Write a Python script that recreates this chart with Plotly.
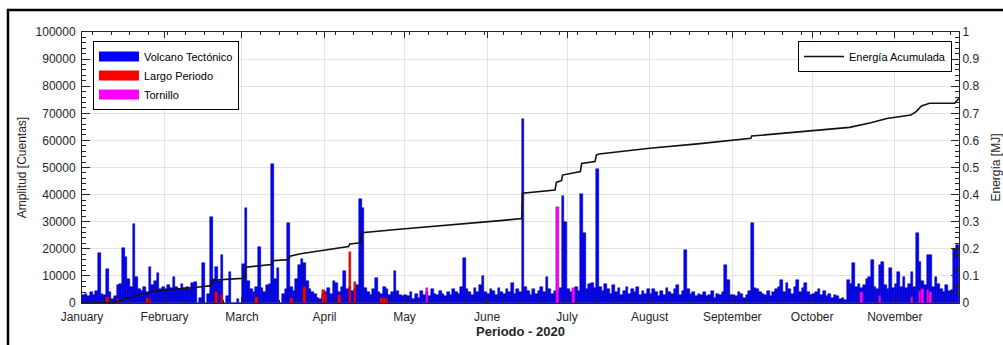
import numpy as np
import pandas as pd
import plotly.graph_objects as go

# ---------------- data ----------------
START = "2020-01-01"
END = "2020-11-25 02:00"

month_ticks = ["2020-01-01", "2020-02-01", "2020-03-01", "2020-04-01", "2020-05-01", "2020-06-01",
               "2020-07-01", "2020-08-01", "2020-09-01", "2020-10-01", "2020-11-01"]
month_labels = ["January", "February", "March", "April", "May", "June",
                "July", "August", "September", "October", "November"]

# daily maximum amplitude [counts] - Volcano Tectónico
vt_jan = [3000, 3500, 2500, 4000, 3000, 4500, 18500, 3500, 2800, 12400,
          4000, 1500, 2500, 6500, 7000, 20400, 17100, 9000, 6000, 29000,
          9500, 5000, 4500, 6000, 4000, 13400, 6500, 8000, 11200, 5000, 6000]
vt_feb = [5000, 6500, 5500, 9700, 6000, 5000, 7000, 5500, 6000, 5000,
          7300, 7900, 0, 2000, 14900, 0, 3500, 31800, 9000, 13400,
          8000, 17600, 0, 2500, 11400, 0, 0, 1500, 0]
vt_mar = [14300, 34900, 8000, 5000, 4000, 6000, 20500, 5500, 4000, 6500,
          7000, 51300, 9000, 12800, 0, 3500, 5000, 29400, 6000, 4500,
          9000, 14000, 16100, 14800, 8000, 5000, 4000, 3500, 2000, 1500, 3000]
vt_apr = [4000, 5500, 3500, 8000, 7500, 4000, 6000, 11900, 5000, 6000,
          4500, 5000, 6500, 38400, 35000, 5500, 4000, 3000, 5000, 9100,
          4000, 3500, 6000, 5000, 3000, 4000, 11900, 4500, 3000, 2500]
vt_may = [3000, 2500, 4000, 1500, 3500, 2000, 4500, 3000, 4000, 2500,
          5000, 3500, 3000, 4500, 3500, 2500, 4000, 3000, 5000, 4000,
          3500, 6000, 16500, 5000, 4000, 3000, 5500, 4000, 6500, 10100, 4000]
vt_jun = [3500, 5000, 4500, 3000, 5500, 4000, 3500, 5000, 4000, 7300,
          3500, 5000, 4000, 67800, 6000, 4500, 3000, 5000, 3500, 4500,
          6000, 4000, 9500, 5000, 3500, 4500, 4000, 5500, 39500, 30000]
vt_jul = [5000, 4000, 3500, 6000, 4500, 40200, 26000, 5000, 7000, 7500,
          5500, 49300, 6000, 4500, 7000, 5000, 3500, 6500, 4000, 5500,
          3000, 4500, 6000, 3500, 5000, 4000, 6000, 3000, 4500, 3500, 5000]
vt_aug = [3500, 5000, 4000, 2500, 4500, 3000, 5500, 4000, 3500, 5000,
          6500, 3000, 4500, 19600, 5000, 3500, 4000, 2500, 3500, 3000,
          4000, 2500, 3000, 4500, 2000, 3500, 3000, 4000, 14000, 8500, 3000]
vt_sep = [3000, 2500, 4000, 3500, 2000, 3000, 4500, 29400, 5500, 5000,
          4000, 3500, 3000, 4500, 2500, 4000, 5000, 6000, 8500, 4000,
          7400, 5000, 3500, 6000, 8500, 4000, 5500, 7400, 4000, 3000]
vt_oct = [3500, 4000, 5000, 3000, 4500, 2500, 3500, 2000, 3000, 2500,
          1500, 2000, 1000, 8500, 7000, 14600, 6000, 7000, 5500, 6500,
          9000, 9500, 15900, 6000, 5000, 14000, 15200, 6500, 5000, 12800, 5500]
vt_nov = [7000, 11500, 6000, 9700, 5500, 7000, 11500, 6000, 25900, 15200,
          8000, 6500, 17700, 17700, 6000, 9700, 7000, 5000, 4000, 6500,
          4500, 4800, 20000, 21400]

# Largo Periodo (day of year index from Jan 1 = 0, amplitude)
lp_day = [9, 13, 24, 25, 50, 52, 65, 78, 83, 90, 91, 96, 100, 102, 112, 113, 114]
lp_amp = [2200, 1500, 1800, 1200, 4000, 3000, 2200, 2000, 6000, 4800, 3300, 2800, 18900, 7900, 2000, 2000, 1500]

# Tornillo
tor_day = [129, 178, 184, 292, 299, 311, 314, 315, 317, 318]
tor_amp = [5500, 35500, 5400, 4000, 2500, 2200, 4500, 5000, 4800, 4000]

# Energía acumulada [MJ] (day offset from Jan 1, value)
en_day = [0, 12, 12.5, 15, 15.5, 19, 19.5, 21, 21.5, 25, 25.5, 33, 43, 48.5, 49, 60, 61, 61.5,
          71, 71.5, 77.5, 78, 82, 100, 100.5, 104.5, 105, 119, 134, 157, 165, 165.3, 177.5, 178,
          180, 180.3, 187, 187.5, 192.5, 193, 194, 213, 231, 243, 251, 251.3, 261, 277, 288,
          296, 302, 311, 313, 315, 318, 327.5, 329]
en_val = [0.0, 0.0, 0.005, 0.008, 0.017, 0.020, 0.026, 0.028, 0.033, 0.036, 0.042, 0.048, 0.058,
          0.064, 0.084, 0.091, 0.093, 0.132, 0.142, 0.156, 0.160, 0.173, 0.182, 0.208, 0.218,
          0.222, 0.259, 0.272, 0.284, 0.304, 0.312, 0.405, 0.417, 0.445, 0.452, 0.472, 0.485,
          0.515, 0.522, 0.546, 0.550, 0.571, 0.587, 0.601, 0.608, 0.616, 0.624, 0.638, 0.648,
          0.665, 0.681, 0.694, 0.706, 0.727, 0.737, 0.737, 0.755]

# ---------------- build ----------------
vt = vt_jan + vt_feb + vt_mar + vt_apr + vt_may + vt_jun + vt_jul + vt_aug + vt_sep + vt_oct + vt_nov
t0 = pd.Timestamp(START)
half = pd.Timedelta(hours=12)
vt_x = [t0 + pd.Timedelta(days=i) + half for i in range(len(vt))]
lp_x = [t0 + pd.Timedelta(days=d) + half for d in lp_day]
tor_x = [t0 + pd.Timedelta(days=d) + half for d in tor_day]
en_x = [t0 + pd.Timedelta(days=d) for d in en_day]

DAY_MS = 86400000
EDGE = "#000080"
FONT = "Liberation Sans, Arial, Helvetica, sans-serif"
AX = "#262626"

fig = go.Figure()
fig.add_trace(go.Bar(x=vt_x, y=vt, width=DAY_MS, marker=dict(color="#0000ff", line=dict(color=EDGE, width=0.5)),
                     name="Volcano Tectónico", legendgroup="vt", showlegend=False))
fig.add_trace(go.Bar(x=lp_x, y=lp_amp, width=DAY_MS, marker=dict(color="#ff0000", line=dict(color="#8b0000", width=0.4)),
                     name="Largo Periodo", legendgroup="lp", showlegend=False))
fig.add_trace(go.Bar(x=tor_x, y=tor_amp, width=DAY_MS, marker=dict(color="#ff00ff", line=dict(color="#800080", width=0.4)),
                     name="Tornillo", legendgroup="tor", showlegend=False))
# legend swatches (wide rectangles like the original legend)
for nm, col, grp in [("Volcano Tectónico", "#0000ff", "vt"), ("Largo Periodo", "#ff0000", "lp"), ("Tornillo", "#ff00ff", "tor")]:
    fig.add_trace(go.Scatter(x=[None], y=[None], mode="lines", line=dict(color=col, width=13),
                             name=nm, legendgroup=grp, legend="legend"))
fig.add_trace(go.Scatter(x=en_x, y=en_val, mode="lines", line=dict(color="#111111", width=1.6),
                         name="Energía Acumulada", yaxis="y2", legend="legend2"))

fig.update_layout(
    width=1003, height=345,
    margin=dict(l=82, r=44, t=32, b=42, autoexpand=False),
    paper_bgcolor="white", plot_bgcolor="white",
    barmode="overlay", bargap=0,
    font=dict(family=FONT, size=12, color=AX),
    showlegend=True,
    legend=dict(x=0.0125, y=0.967, xanchor="left", yanchor="top", bgcolor="white",
                bordercolor="black", borderwidth=1, font=dict(size=11, color="black"),
                itemwidth=40, tracegroupgap=0, traceorder="normal"),
    legend2=dict(x=0.992, y=0.967, xanchor="right", yanchor="top", bgcolor="white",
                 bordercolor="black", borderwidth=1, font=dict(size=11, color="black"),
                 itemwidth=40),
    xaxis=dict(type="date", range=[START, END], tickmode="array", tickvals=month_ticks, ticktext=month_labels,
               automargin=False,
               ticks="inside", ticklen=6, tickcolor=AX, showline=True, linecolor=AX, linewidth=1, mirror="ticks",
               showgrid=True, gridcolor="#e3e3e3", gridwidth=1, ticklabelstandoff=3,
               tickfont=dict(size=12, color=AX),
               minor=dict(ticks="inside", ticklen=3, dtick=7 * DAY_MS, tickcolor=AX, showgrid=False),
               title=dict(text="<b>Periodo - 2020</b>", font=dict(size=13, color=AX), standoff=3)),
    yaxis=dict(range=[0, 100000], dtick=10000, tickformat="d", ticks="inside", ticklen=8, tickcolor=AX,
               automargin=False,
               showline=True, linecolor=AX, linewidth=1, showgrid=True, gridcolor="#e3e3e3",
               zeroline=False, tickfont=dict(size=12, color=AX), ticklabelstandoff=3,
               minor=dict(ticks="inside", ticklen=4, dtick=2000, tickcolor=AX, showgrid=False),
               title=dict(text="Amplitud [Cuentas]", font=dict(size=12, color=AX), standoff=6)),
    yaxis2=dict(range=[0, 1], dtick=0.1, overlaying="y", side="right", ticks="inside", ticklen=8,
                automargin=False,
                tickcolor=AX, showline=True, linecolor=AX, linewidth=1, showgrid=False, zeroline=False,
                tickfont=dict(size=12, color=AX),
                minor=dict(ticks="inside", ticklen=4, dtick=0.02, tickcolor=AX, showgrid=False),
                title=dict(text="Energía [MJ]", font=dict(size=12, color=AX), standoff=14)),
    shapes=[dict(type="rect", xref="paper", yref="paper", x0=-0.0844, x1=1.2, y0=-0.3, y1=1.081,
                 line=dict(color="black", width=2.5), fillcolor="rgba(0,0,0,0)", layer="above")],
)

fig.write_html("out.html")
